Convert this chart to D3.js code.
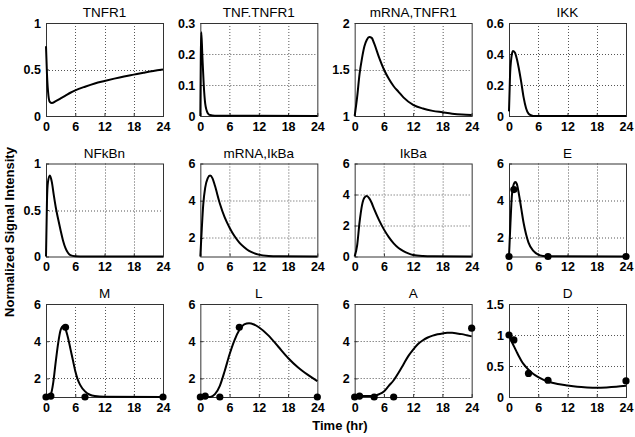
<!DOCTYPE html>
<html>
<head>
<meta charset="utf-8">
<script src="https://cdn.jsdelivr.net/npm/d3@7"></script>
<style>
  html, body { margin: 0; padding: 0; background: #fff; }
  svg { display: block; }
  text { font-family: "Liberation Sans", Arial, sans-serif; fill: #000; }
</style>
</head>
<body>
<svg id="chart" width="635" height="437"></svg>
<script>
// ---------- data ----------
const titles = ["TNFR1", "TNF.TNFR1", "mRNA,TNFR1", "IKK",
                "NFkBn", "mRNA,IkBa", "IkBa", "E",
                "M", "L", "A", "D"];
const xTicks = [0, 6, 12, 18, 24];

const tnfr1_t = [0, 0.2, 0.5, 0.8, 1.2, 2, 3, 4, 5, 6, 8, 10, 12, 14, 16, 18, 20, 22, 24];
const tnfr1_y = [0.75, 0.45, 0.22, 0.15, 0.14, 0.16, 0.19, 0.22, 0.25, 0.275, 0.315, 0.35, 0.377, 0.402, 0.425, 0.445, 0.465, 0.484, 0.50];

const tnftnfr1_t = [0, 0.1, 0.2, 0.4, 0.7, 1.0, 1.5, 2, 3, 24];
const tnftnfr1_y = [0, 0.2, 0.27, 0.2, 0.1, 0.04, 0.01, 0.003, 0.001, 0];

const mtnfr1_t = [0, 0.5, 1, 1.5, 2, 2.5, 3, 3.5, 4, 5, 6, 7, 8, 9, 10, 12, 14, 16, 18, 20, 22, 24];
const mtnfr1_y = [1, 1.2, 1.45, 1.62, 1.75, 1.82, 1.85, 1.84, 1.78, 1.63, 1.5, 1.4, 1.32, 1.26, 1.2, 1.12, 1.08, 1.055, 1.04, 1.025, 1.015, 1.01];

const ikk_t = [0, 0.2, 0.5, 0.8, 1.2, 1.6, 2, 2.5, 3, 3.5, 4, 4.5, 5, 24];
const ikk_y = [0.03, 0.25, 0.38, 0.42, 0.41, 0.37, 0.31, 0.22, 0.12, 0.05, 0.015, 0.005, 0, 0];

const nfkbn_t = [0, 0.2, 0.4, 0.8, 1.2, 1.6, 2, 2.5, 3, 3.5, 4, 4.5, 5, 6, 8, 24];
const nfkbn_y = [0, 0.6, 0.8, 0.87, 0.8, 0.66, 0.53, 0.4, 0.28, 0.17, 0.09, 0.04, 0.015, 0.003, 0, 0];

const mikba_t = [0, 0.3, 0.6, 1, 1.5, 2, 2.5, 3, 4, 5, 6, 7, 8, 9, 10, 11, 12, 14, 16, 24];
const mikba_y = [1, 2.5, 3.8, 4.7, 5.2, 5.35, 5.2, 4.8, 3.85, 3.1, 2.55, 2.1, 1.75, 1.5, 1.3, 1.18, 1.1, 1.03, 1.01, 1];

const ikba_t = [0, 0.5, 1, 1.5, 2, 2.5, 3, 3.5, 4, 5, 6, 7, 8, 9, 10, 11, 12, 14, 16, 24];
const ikba_y = [0, 0.7, 2.2, 3.3, 3.8, 3.9, 3.75, 3.45, 3.05, 2.35, 1.75, 1.25, 0.85, 0.55, 0.35, 0.2, 0.1, 0.03, 0.01, 0];

const e_t = [0, 0.3, 0.6, 1, 1.3, 1.6, 2, 2.5, 3, 3.5, 4, 5, 6, 7, 8, 24];
const e_y = [1, 2.8, 4.3, 4.9, 5.0, 4.9, 4.4, 3.6, 2.8, 2.2, 1.75, 1.3, 1.1, 1.03, 1.01, 1];
const e_pt = [0, 1, 8, 24];
const e_pv = [1, 4.6, 1, 1];

const m_t = [0, 0.5, 1, 1.5, 2, 2.5, 3, 3.5, 4, 4.5, 5, 5.5, 6, 6.5, 7, 8, 9, 10, 12, 24];
const m_y = [1, 1.02, 1.15, 1.8, 2.9, 3.9, 4.6, 4.8, 4.65, 4.2, 3.6, 3.0, 2.4, 1.95, 1.65, 1.3, 1.12, 1.05, 1.01, 1];
const m_pt = [0, 1, 4, 8, 24];
const m_pv = [1, 1.05, 4.75, 1, 1];

const l_t = [0, 1, 2, 3, 4, 5, 6, 7, 8, 9, 10, 11, 12, 14, 16, 18, 20, 22, 24];
const l_y = [1, 1, 1, 1.15, 1.6, 2.4, 3.3, 4.05, 4.6, 4.9, 4.97, 4.9, 4.75, 4.3, 3.7, 3.1, 2.6, 2.2, 1.85];
const l_pt = [0, 1, 4, 8, 24];
const l_pv = [1, 1.05, 1, 4.75, 1];

const a_t = [0, 1, 2, 3, 4, 5, 6, 7, 8, 9, 10, 11, 12, 13, 14, 15, 16, 17, 18, 19, 20, 21, 22, 23, 24];
const a_y = [1.05, 1.05, 1.05, 1.05, 1.07, 1.15, 1.3, 1.6, 1.9, 2.3, 2.75, 3.2, 3.55, 3.85, 4.05, 4.2, 4.3, 4.37, 4.42, 4.45, 4.45, 4.42, 4.38, 4.32, 4.26];
const a_pt = [0, 1, 4, 8, 24];
const a_pv = [1, 1.05, 1, 1, 4.7];

const d_t = [0, 0.5, 1, 1.5, 2, 2.5, 3, 4, 5, 6, 7, 8, 10, 12, 14, 16, 18, 20, 22, 24];
const d_y = [1.0, 0.9, 0.82, 0.74, 0.66, 0.59, 0.53, 0.44, 0.37, 0.32, 0.28, 0.25, 0.21, 0.185, 0.165, 0.155, 0.15, 0.155, 0.165, 0.18];
const d_pt = [0, 1, 4, 8, 24];
const d_pv = [1.0, 0.92, 0.38, 0.27, 0.26];

const yDomains = [[0, 1], [0, 0.3], [1, 2], [0, 0.6],
                  [0, 1], [1, 6], [0, 6], [1, 6],
                  [1, 6], [1, 6], [1, 6], [0, 1.5]];
const yTicks = [[0, 0.5, 1], [0, 0.1, 0.2, 0.3], [1, 1.5, 2], [0, 0.2, 0.4, 0.6],
                [0, 0.5, 1], [2, 4, 6], [0, 2, 4, 6], [2, 4, 6],
                [2, 4, 6], [2, 4, 6], [2, 4, 6], [0, 0.5, 1, 1.5]];

const curveT = [tnfr1_t, tnftnfr1_t, mtnfr1_t, ikk_t, nfkbn_t, mikba_t, ikba_t, e_t, m_t, l_t, a_t, d_t];
const curveY = [tnfr1_y, tnftnfr1_y, mtnfr1_y, ikk_y, nfkbn_y, mikba_y, ikba_y, e_y, m_y, l_y, a_y, d_y];
const ptsT = [null, null, null, null, null, null, null, e_pt, m_pt, l_pt, a_pt, d_pt];
const ptsV = [null, null, null, null, null, null, null, e_pv, m_pv, l_pv, a_pv, d_pv];

// ---------- layout ----------
const svg = d3.select("#chart");
const W = 117, H = 93;
const colX = d3.scaleLinear().domain([0, 3]).range([46, 509]);
const rowY = d3.scaleLinear().domain([0, 2]).range([23, 304]);
const fmt = v => (v === 0 ? "0" : String(v));

titles.forEach((title, i) => {
  const col = i % 4, row = Math.floor(i / 4);
  const g = svg.append("g").attr("transform", `translate(${colX(col)},${rowY(row)})`);
  const x = d3.scaleLinear().domain([0, 24]).range([0, W]);
  const y = d3.scaleLinear().domain(yDomains[i]).range([H, 0]);

  g.append("rect").attr("width", W).attr("height", H).attr("fill", "#fff");

  // grid
  g.selectAll(".gx").data(xTicks.filter(t => t > 0 && t < 24)).join("line")
    .attr("x1", d => Math.round(x(d)) + 0.5).attr("x2", d => Math.round(x(d)) + 0.5).attr("y1", 0).attr("y2", H)
    .attr("stroke", "#555").attr("stroke-width", 1).attr("stroke-dasharray", "1,2");
  g.selectAll(".gy").data(yTicks[i].filter(t => t > yDomains[i][0] && t < yDomains[i][1])).join("line")
    .attr("x1", 0).attr("x2", W).attr("y1", d => Math.round(y(d)) + 0.5).attr("y2", d => Math.round(y(d)) + 0.5)
    .attr("stroke", "#555").attr("stroke-width", 1).attr("stroke-dasharray", "1,2");

  // axes (ticks inward, labels)
  const ax = g.append("g").attr("transform", `translate(0,${H})`)
    .call(d3.axisBottom(x).tickValues(xTicks).tickSize(-3).tickPadding(6).tickFormat(fmt));
  const ay = g.append("g")
    .call(d3.axisLeft(y).tickValues(yTicks[i]).tickSize(-3).tickPadding(5).tickFormat(fmt));
  [ax, ay].forEach(a => {
    a.select(".domain").remove();
    a.selectAll(".tick line").attr("stroke", "#333");
    a.selectAll("text").attr("font-family", "Liberation Sans, Arial, sans-serif")
      .attr("font-size", 12.5).attr("font-weight", "bold").attr("fill", "#000");
  });

  // box
  g.append("rect").attr("x", 0.5).attr("y", 0.5).attr("width", W).attr("height", H).attr("fill", "none")
    .attr("stroke", "#333").attr("stroke-width", 1);

  // curve
  const pts = curveT[i].map((t, k) => [t, curveY[i][k]]);
  g.append("path").datum(pts)
    .attr("d", d3.line().x(d => x(d[0])).y(d => y(d[1])).curve(d3.curveMonotoneX))
    .attr("fill", "none").attr("stroke", "#000").attr("stroke-width", 2);

  // data points
  if (ptsT[i]) {
    g.selectAll(".pt").data(ptsT[i].map((t, k) => [t, ptsV[i][k]])).join("circle")
      .attr("cx", d => x(d[0])).attr("cy", d => y(d[1])).attr("r", 3.6).attr("fill", "#000");
  }

  // title
  g.append("text").attr("x", W / 2).attr("y", -6).attr("text-anchor", "middle")
    .attr("font-size", 13.5).text(title);
});

// axis titles
svg.append("text").attr("transform", "translate(14,232) rotate(-90)")
  .attr("text-anchor", "middle").attr("font-size", 13).attr("font-weight", "bold")
  .text("Normalized Signal Intensity");
svg.append("text").attr("x", 340).attr("y", 430)
  .attr("text-anchor", "middle").attr("font-size", 13).attr("font-weight", "bold")
  .text("Time (hr)");
</script>
</body>
</html>
